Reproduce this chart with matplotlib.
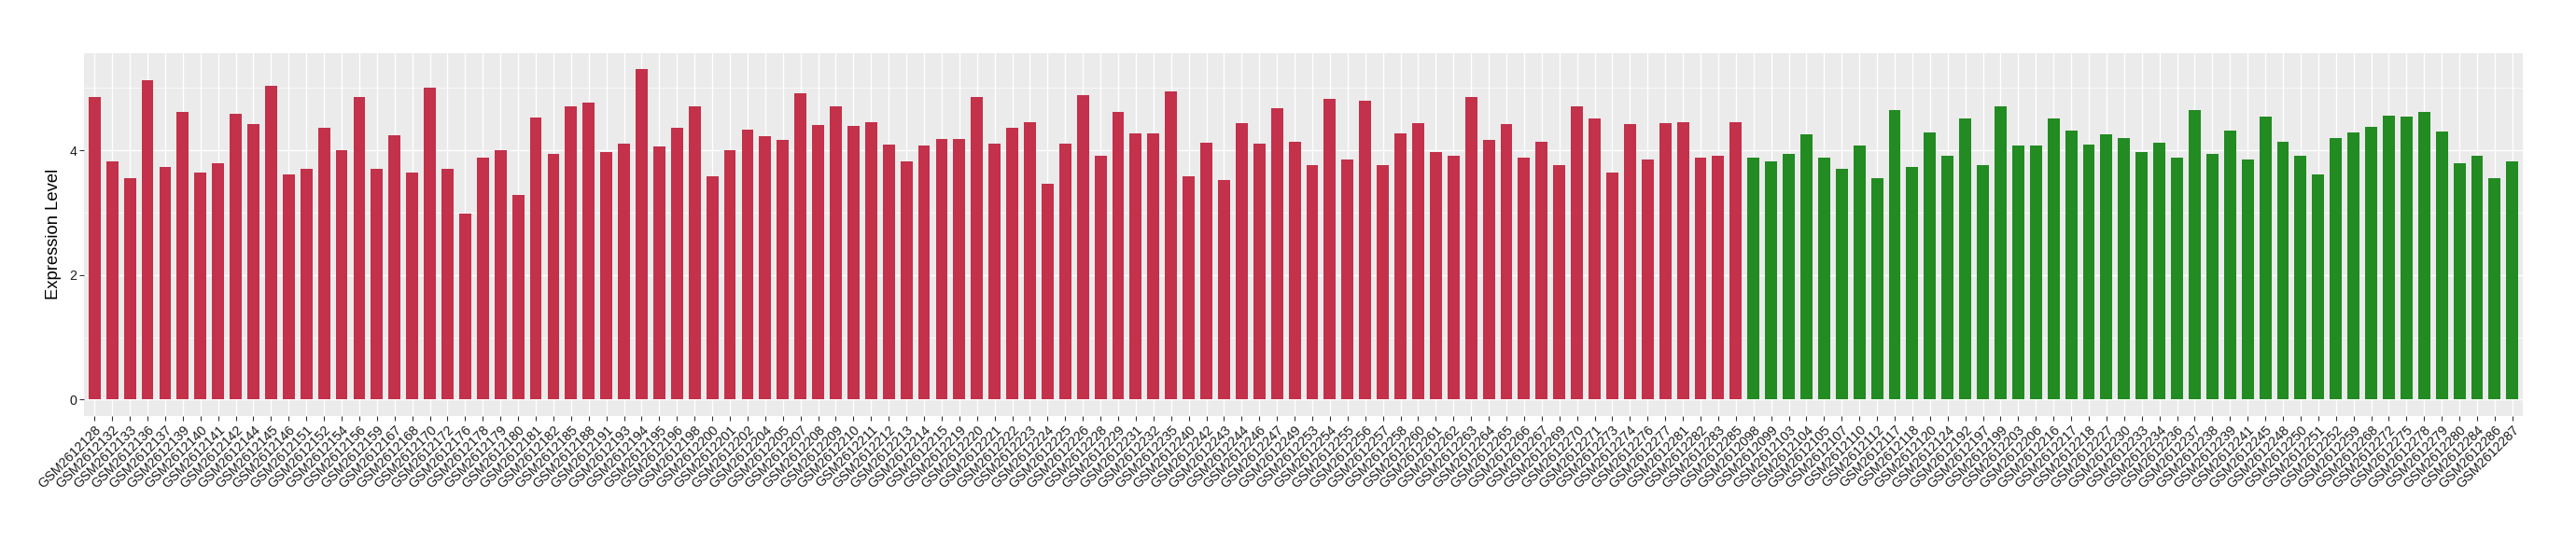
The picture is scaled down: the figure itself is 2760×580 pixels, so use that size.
import numpy as np
import matplotlib
matplotlib.use("Agg")
from matplotlib import pyplot as plt
from matplotlib.ticker import MultipleLocator

plt.rcParams["font.family"] = ["Liberation Sans", "DejaVu Sans"]

# =============================================================================
# data
# =============================================================================

# group 1 (red)
red_ids = [
    128, 132, 133, 136, 137, 139, 140, 141, 142, 144, 145, 146, 151, 152, 154,
    156, 159, 167, 168, 170, 172, 176, 178, 179, 180, 181, 182, 185, 188, 191,
    193, 194, 195, 196, 198, 200, 201, 202, 204, 205, 207, 208, 209, 210, 211,
    212, 213, 214, 215, 219, 220, 221, 222, 223, 224, 225, 226, 228, 229, 231,
    232, 235, 240, 242, 243, 244, 246, 247, 249, 253, 254, 255, 256, 257, 258,
    260, 261, 262, 263, 264, 265, 266, 267, 269, 270, 271, 273, 274, 276, 277,
    281, 282, 283, 285,
]
red_values = [
    4.86, 3.82, 3.55, 5.12, 3.74, 4.62, 3.65, 3.80, 4.59, 4.43, 5.04, 3.61, 3.71,
    4.37, 4.00, 4.86, 3.71, 4.25, 3.64, 5.00, 3.71, 2.99, 3.88, 4.01, 3.29, 4.53,
    3.94, 4.71, 4.77, 3.98, 4.11, 5.30, 4.07, 4.37, 4.70, 3.59, 4.00, 4.34, 4.23,
    4.17, 4.92, 4.41, 4.71, 4.40, 4.46, 4.10, 3.83, 4.08, 4.19, 4.19, 4.86, 4.11,
    4.37, 4.46, 3.46, 4.11, 4.88, 3.92, 4.61, 4.28, 4.28, 4.94, 3.59, 4.13, 3.52,
    4.44, 4.11, 4.68, 4.14, 3.77, 4.82, 3.85, 4.80, 3.76, 4.28, 4.44, 3.98, 3.92,
    4.85, 4.17, 4.43, 3.89, 4.14, 3.76, 4.70, 4.52, 3.64, 4.43, 3.85, 4.44, 4.46,
    3.88, 3.91, 4.46,
]

# group 2 (green)
green_ids = [
    2098, 2099, 2103, 2104, 2105, 2107, 2110, 2112, 2117, 2118, 2120, 2124, 2192,
    2197, 2199, 2203, 2206, 2216, 2217, 2218, 2227, 2230, 2233, 2234, 2236, 2237,
    2238, 2239, 2241, 2245, 2248, 2250, 2251, 2252, 2259, 2268, 2272, 2275, 2278,
    2279, 2280, 2284, 2286, 2287,
]
green_values = [
    3.89, 3.83, 3.95, 4.26, 3.89, 3.71, 4.08, 3.56, 4.65, 3.73, 4.29, 3.91, 4.52,
    3.77, 4.70, 4.08, 4.08, 4.52, 4.32, 4.10, 4.26, 4.20, 3.97, 4.13, 3.89, 4.65,
    3.95, 4.32, 3.86, 4.55, 4.14, 3.92, 3.61, 4.20, 4.29, 4.38, 4.56, 4.55, 4.61,
    4.31, 3.80, 3.92, 3.56, 3.82,
]

# =============================================================================
# pre-processing
# =============================================================================

labels = ["GSM2612" + str(i) for i in red_ids] + ["GSM261" + str(i) for i in green_ids]
values = red_values + green_values
colors = ["#C3314A"] * len(red_values) + ["#228B22"] * len(green_values)
xpos = np.arange(len(values))

# =============================================================================
# plot
# =============================================================================

fig = plt.figure(figsize=(27.6, 5.8), dpi=100)
ax = fig.add_axes([0.0326, 0.231, 0.9468, 0.6712])

ax.set_facecolor("#EBEBEB")
ax.bar(xpos, values, width=0.68, color=colors, zorder=3)

# ggplot-like limits
ax.set_xlim(-0.6, len(values) - 1 + 0.6)
ymax = max(values)
ax.set_ylim(-0.05 * ymax, ymax * 1.05)

ax.set_xticks(xpos)
ax.set_xticklabels(labels, rotation=45, ha="right", va="top", rotation_mode="anchor",
                   fontsize=10.3, color="#1a1a1a")
ax.yaxis.set_major_locator(MultipleLocator(2))
ax.yaxis.set_minor_locator(MultipleLocator(1))
ax.tick_params(axis="y", labelsize=10.3, labelcolor="#1a1a1a")
ax.tick_params(which="major", length=3.5, width=0.8, color="#333333", pad=2)
ax.tick_params(which="minor", length=0)

ax.grid(which="major", color="white", linewidth=1.0, zorder=0)
ax.grid(which="minor", axis="y", color="white", linewidth=0.5, zorder=0)
ax.set_axisbelow(True)
for s in ax.spines.values():
    s.set_visible(False)

ax.set_ylabel("Expression Level", fontsize=13.2, labelpad=6)

plt.savefig("out.png", dpi=100)
